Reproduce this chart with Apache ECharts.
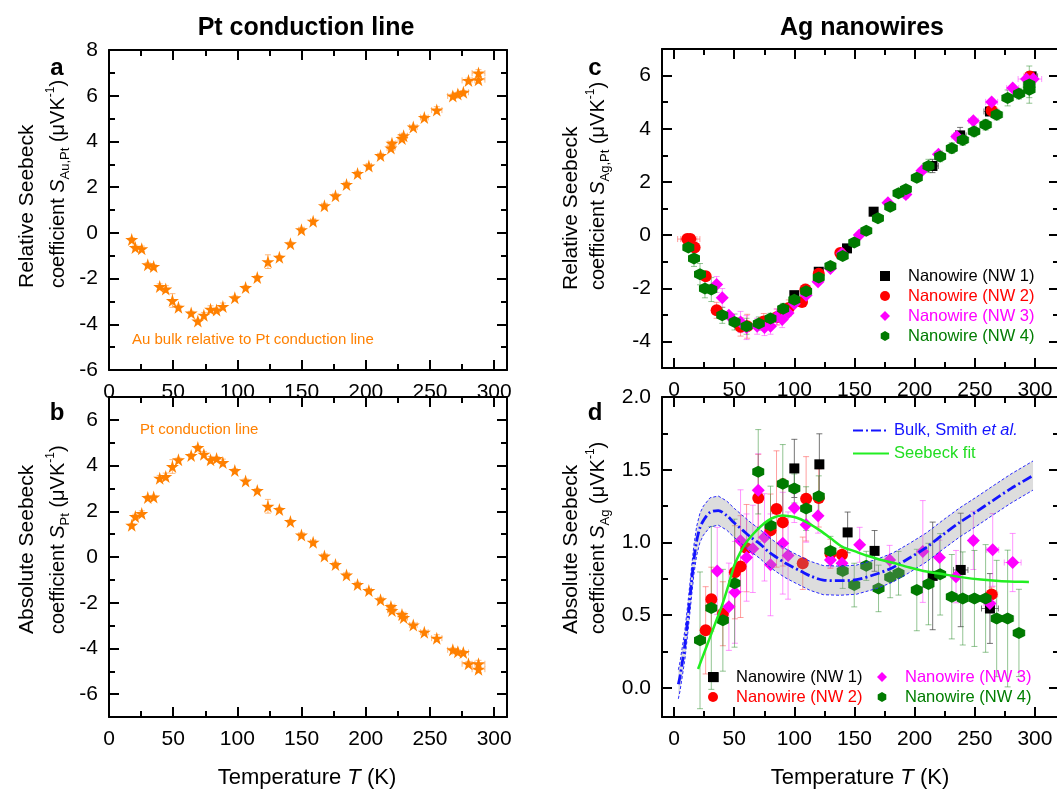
<!DOCTYPE html>
<html><head><meta charset="utf-8">
<script src="https://cdn.jsdelivr.net/npm/echarts@6/dist/echarts.min.js"></script>
<style>html,body{margin:0;padding:0;background:#fff}#c{width:1057px;height:790px}</style>
</head><body><div id="c"></div>
<script>
// ---------- Pt conduction line (panels a, b) ----------
const ptT = [17.7,20.5,25.5,30.2,34.8,39.5,44.2,49.4,54.1,64,69.2,73.9,79.1,83.8,88.7,98,106.4,115.5,123.8,132.7,141.3,149.9,159,167.8,176.4,185,193.6,202.4,211.5,219.6,220.4,228.2,229.5,237,245.6,255.3,267.8,271.7,276,280,287.8,287.8];
const auRelPt = [-0.29,-0.64,-0.70,-1.39,-1.47,-2.35,-2.46,-2.96,-3.25,-3.51,-3.86,-3.60,-3.34,-3.37,-3.22,-2.84,-2.39,-1.95,-1.26,-1.07,-0.48,0.14,0.51,1.19,1.62,2.12,2.60,2.93,3.38,3.71,3.92,4.13,4.25,4.63,5.05,5.37,5.99,6.07,6.15,6.67,6.70,6.99];
const ptAbs = [1.39,1.77,1.90,2.60,2.62,3.45,3.52,3.96,4.25,4.44,4.79,4.50,4.25,4.31,4.13,3.78,3.33,2.91,2.22,2.08,1.55,0.96,0.65,0.04,-0.33,-0.79,-1.20,-1.47,-1.87,-2.17,-2.34,-2.52,-2.65,-2.97,-3.29,-3.55,-4.06,-4.14,-4.18,-4.67,-4.67,-4.91];
const ptYErr = [0.08,0.1,0.12,0.08,0.08,0.12,0.15,0.3,0.08,0.08,0.08,0.12,0.15,0.08,0.15,0.08,0.08,0.08,0.3,0.08,0.08,0.08,0.08,0.08,0.08,0.08,0.08,0.08,0.08,0.08,0.08,0.1,0.08,0.08,0.08,0.15,0.08,0.08,0.08,0.1,0.15,0.15];
const ptXErr = [0,0,0,0,0,0,0,0,0,0,0,0,0,0,0,0,0,0,0,0,0,2,2,2,2,2,2,2,2,3,3,3,3,3,3,4,4,4,4,5,5,5];

// ---------- Ag nanowires, relative (panel c) ----------
const c1T = [100,120.3,143.8,165.9,214.8,237.8,262.6,297.2];
const c1S = [-2.26,-1.38,-0.50,0.88,2.60,3.75,4.65,5.97];
const c1E = [0.08,0.12,0.05,0.05,0.25,0.3,0.15,0.1];
const c1X = [0,0,0,0,5,5,5,5];
const c2T = [11,13.5,17.1,26.3,35.4,55.3,60.8,74.6,85.7,95.4,106.4,109.2,120.3,138.2,264,295.8];
const c2S = [-0.15,-0.15,-0.47,-1.55,-2.83,-3.45,-3.43,-3.25,-3.08,-2.74,-2.52,-2.05,-1.45,-0.67,4.69,5.97];
const c2E = [0.05,0.05,0.08,0.15,0.3,0.35,0.45,0.3,0.3,0.3,0.05,0.2,0.1,0.05,0.1,0.1];
const c2X = [8,8,0,0,0,0,0,0,0,0,0,0,0,0,5,5];
const c3T = [35.4,40.1,45.6,55.3,60.3,69.1,75.2,80.2,85.2,89.9,94.8,100,109.8,119.7,130,139.6,154,177.8,192.7,206,219.8,235,248.8,264,281.5,293,298.6];
const c3S = [-1.86,-2.36,-3.02,-3.27,-3.48,-3.43,-3.48,-3.43,-3.08,-3.18,-2.93,-2.58,-2.26,-1.76,-1.26,-0.69,0,1.22,1.53,2.42,3.04,3.71,4.30,5.01,5.53,5.87,5.87];
const c3E = [0.3,0.35,0.1,0.4,0.45,0.3,0.3,0.3,0.3,0.3,0.1,0.1,0.1,0.1,0.1,0.05,0.05,0.08,0.15,0.1,0.1,0.1,0.1,0.1,0.1,0.1,0.1];
const c3X = [0,0,0,0,0,0,0,0,0,0,0,0,0,0,0,0,0,3,3,3,3,4,4,5,5,7,7];
const c4T = [11.9,16.6,21.6,25.7,31,40.1,50.3,60.3,70.5,80.2,90.7,100,109.8,120.3,130,140.2,149.8,159.8,169.5,179.7,186.6,192.7,201.8,211.5,221.2,230.9,240,249.4,259,268.2,277.3,286.7,295.3,295.3];
const c4S = [-0.47,-0.88,-1.47,-2.01,-2.05,-3.02,-3.27,-3.43,-3.33,-3.14,-2.77,-2.43,-2.11,-1.60,-1.16,-0.79,-0.28,0.16,0.63,1.07,1.57,1.72,2.16,2.60,2.96,3.27,3.58,3.90,4.15,4.53,5.16,5.32,5.47,5.66];
const c4E = [0.05,0.3,0.4,0.35,0.45,0.3,0.3,0.3,0.25,0.2,0.2,0.15,0.12,0.1,0.08,0.08,0.06,0.06,0.06,0.08,0.1,0.1,0.15,0.25,0.2,0.2,0.2,0.2,0.2,0.2,0.3,0.2,0.3,0.7];
const c4X = [0,0,0,0,0,0,0,0,0,0,0,0,0,0,0,0,0,0,0,0,0,0,3,3,3,3,5,5,5,5,5,5,5,5];

// ---------- Ag nanowires, absolute (panel d) ----------
const d1T = [33,100,120.8,144.3,166.7,215,238.3,262.6];
const d1S = [0.074,1.509,1.537,1.069,0.942,0.770,0.811,0.546];
const d1E = [0.02,0.2,0.21,0.14,0.14,0.37,0.39,0.24];
const d1X = [0,0,0,0,0,3,6,7];
const d2T = [26.3,31,40.6,50.6,55.3,60.3,70,80.2,85.2,90.4,107,109.8,120.3,130,139.6,264];
const d2S = [0.396,0.61,0.51,0.795,0.834,0.961,1.306,1.083,1.23,1.138,0.857,1.30,1.306,0.922,0.915,0.643];
const d2E = [0.3,0.22,0.22,0.32,0.35,0.3,0.3,0.25,0.4,0.3,0.18,0.29,0.2,0.1,0.05,0.05];
const d2X = [0,0,0,0,0,0,0,0,0,0,0,0,0,0,0,5];
const d3T = [35.9,45.6,50.6,55.3,60.3,65.5,70,75.2,80.2,90.4,94.8,100,109.8,119.7,130,139.6,154.3,179.2,206.8,220.6,234.4,248.8,264.9,262.6,281.5];
const d3S = [0.804,0.558,0.657,1.012,0.896,0.956,1.359,1.035,0.846,0.995,0.910,1.237,1.122,1.184,0.880,0.857,0.984,0.880,0.938,0.896,0.765,1.014,0.949,0.581,0.862];
const d3E = [0.3,0.3,0.35,0.35,0.3,0.3,0.25,0.3,0.35,0.35,0.3,0.1,0.12,0.12,0.05,0.05,0.12,0.1,0.35,0.12,0.18,0.2,0.25,0.05,0.2];
const d3X = [0,0,0,0,0,0,0,0,0,0,0,0,0,0,0,0,0,0,0,0,0,3,5,5,7];
const d4T = [21.6,31,40.6,50.3,70,80.2,90.4,100,109.8,120.3,130,140.2,149.8,159.8,170,179.7,186.6,201.8,211.5,221.2,230.9,240,249.7,259,268.2,277.3,286.7];
const d4S = [0.327,0.55,0.465,0.72,1.486,1.117,1.403,1.371,1.233,1.318,0.942,0.804,0.707,0.839,0.684,0.760,0.788,0.673,0.714,0.781,0.627,0.615,0.615,0.615,0.477,0.477,0.378];
const d4E = [0.47,0.56,0.35,0.44,0.29,0.27,0.27,0.1,0.15,0.14,0.1,0.12,0.15,0.1,0.16,0.14,0.15,0.28,0.28,0.28,0.29,0.32,0.33,0.37,0.4,0.47,0.3];
const d4X = [0,0,0,0,0,0,0,0,0,0,0,0,0,0,0,0,0,0,0,0,0,0,0,0,4,5,5];

// Bulk (Smith et al.) curve and its uncertainty band half-width
const smithT = [3.6,5,9.1,12,14.7,16.5,18.8,21.5,24.4,29.9,36.8,43.8,50,57.5,64,71.4,78,85.3,92,99,106,113,124,137.8,151.6,168.3,182,195,209.8,223,237.5,251,265,280,298.4];
const smithS = [0.025,0.08,0.30,0.52,0.74,0.88,1.01,1.10,1.15,1.207,1.219,1.185,1.135,1.081,1.035,0.99,0.94,0.897,0.86,0.829,0.80,0.771,0.741,0.737,0.744,0.783,0.828,0.89,0.966,1.05,1.138,1.21,1.288,1.37,1.46];
const smithHalf = 0.1;
// Seebeck fit curve
const fitT = [20,25,30,35,40,45,50,55,60,66,72,78,84,90,96,102,110,120,130,140,150,160,170,182,195,210,225,240,255,270,285,295];
const fitS = [0.13,0.24,0.35,0.46,0.57,0.70,0.84,0.93,1.00,1.06,1.11,1.15,1.175,1.185,1.18,1.17,1.14,1.09,1.03,0.97,0.94,0.91,0.885,0.86,0.83,0.80,0.78,0.76,0.745,0.735,0.73,0.728];

// ---------- ticks ----------
const xMajPt = [0,50,100,150,200,250,300], xMinPt = [25,75,125,175,225,275];
const xMajAg = [0,50,100,150,200,250,300], xMinAg = [25,75,125,175,225,275];
const yMajA = [-6,-4,-2,0,2,4,6,8], yMinA = [-5,-3,-1,1,3,5,7];
const yMajB = [-6,-4,-2,0,2,4,6], yMinB = [-5,-3,-1,1,3,5];
const yMajC = [-4,-2,0,2,4,6], yMinC = [-3,-1,1,3,5];
const yMajD = [0,0.5,1,1.5,2], yMinD = [0.25,0.75,1.25,1.75];

const FONT = "'Liberation Sans', Arial, Helvetica, sans-serif";
const grids = [
  {left:109, top:50, width:398, height:320},
  {left:109, top:397, width:398, height:320},
  {left:662, top:49, width:397, height:319},
  {left:662, top:397, width:397, height:320}
].map(g => Object.assign({outerBoundsMode:'none', containLabel:false}, g));

const xAxes = [], yAxes = [];
function addAxes(g, xr, xMaj, xMin, yr, yMaj, yMin, yFmt) {
  const line = {onZero:false, lineStyle:{color:'#000', width:2}};
  const tick = (vals, len) => ({inside:true, length:len, customValues:vals, lineStyle:{color:'#000', width:2}});
  const lab = {fontSize:21, color:'#000', fontFamily:FONT};
  const bx = {gridIndex:g, type:'value', min:xr[0], max:xr[1], splitLine:{show:false}};
  xAxes.push(Object.assign({}, bx, {position:'bottom', axisLine:line, axisTick:tick(xMaj,10),
    axisLabel:Object.assign({customValues:xMaj, margin:12}, lab)}));
  xAxes.push(Object.assign({}, bx, {position:'top', axisLine:line, axisTick:tick(xMaj,10), axisLabel:{show:false}}));
  xAxes.push(Object.assign({}, bx, {position:'bottom', axisLine:{show:false,onZero:false}, axisTick:tick(xMin,6), axisLabel:{show:false}}));
  xAxes.push(Object.assign({}, bx, {position:'top', axisLine:{show:false,onZero:false}, axisTick:tick(xMin,6), axisLabel:{show:false}}));
  const by = {gridIndex:g, type:'value', min:yr[0], max:yr[1], splitLine:{show:false}};
  yAxes.push(Object.assign({}, by, {position:'left', axisLine:line, axisTick:tick(yMaj,10),
    axisLabel:Object.assign({customValues:yMaj, margin:11, formatter:yFmt}, lab)}));
  yAxes.push(Object.assign({}, by, {position:'right', axisLine:line, axisTick:tick(yMaj,10), axisLabel:{show:false}}));
  yAxes.push(Object.assign({}, by, {position:'left', axisLine:{show:false,onZero:false}, axisTick:tick(yMin,6), axisLabel:{show:false}}));
  yAxes.push(Object.assign({}, by, {position:'right', axisLine:{show:false,onZero:false}, axisTick:tick(yMin,6), axisLabel:{show:false}}));
}
const intFmt = v => String(v);
addAxes(0, [0,310], xMajPt, xMinPt, [-6,8], yMajA, yMinA, intFmt);
addAxes(1, [0,310], xMajPt, xMinPt, [-7,7], yMajB, yMinB, intFmt);
addAxes(2, [-10,320], xMajAg, xMinAg, [-5,7], yMajC, yMinC, intFmt);
addAxes(3, [-10,320], xMajAg, xMinAg, [-0.2,2.0], yMajD, yMinD, v => Number(v).toFixed(1));

function errSeries(g, T, S, E, X, color) {
  return {
    type:'custom', xAxisIndex:4*g, yAxisIndex:4*g, silent:true, clip:true, z:2,
    data: T.map((t,i) => [t, S[i], E[i], X[i]]),
    encode:{x:0, y:1},
    renderItem: (params, api) => {
      const x = api.value(0), y = api.value(1), ey = api.value(2), ex = api.value(3);
      const ch = [], st = {stroke:color, lineWidth:1};
      const cap = 3;
      if (ey > 0) {
        const a = api.coord([x, y - ey]), b = api.coord([x, y + ey]);
        ch.push({type:'line', shape:{x1:a[0],y1:a[1],x2:b[0],y2:b[1]}, style:st});
        ch.push({type:'line', shape:{x1:a[0]-cap,y1:a[1],x2:a[0]+cap,y2:a[1]}, style:st});
        ch.push({type:'line', shape:{x1:b[0]-cap,y1:b[1],x2:b[0]+cap,y2:b[1]}, style:st});
      }
      if (ex > 0) {
        const a = api.coord([x - ex, y]), b = api.coord([x + ex, y]);
        ch.push({type:'line', shape:{x1:a[0],y1:a[1],x2:b[0],y2:b[1]}, style:st});
        ch.push({type:'line', shape:{x1:a[0],y1:a[1]-cap,x2:a[0],y2:a[1]+cap}, style:st});
        ch.push({type:'line', shape:{x1:b[0],y1:b[1]-cap,x2:b[0],y2:b[1]+cap}, style:st});
      }
      return {type:'group', children:ch};
    }
  };
}
function scat(g, name, T, S, symbol, size, color) {
  return {type:'scatter', name, xAxisIndex:4*g, yAxisIndex:4*g, z:3, silent:true,
    data: T.map((t,i) => [t, S[i]]), symbol, symbolSize:size, itemStyle:{color, opacity:1}};
}
const STAR = 'path://M50,0 L61,35 L98,35 L68,57 L79,91 L50,70 L21,91 L32,57 L2,35 L39,35 Z';
const HEX = 'path://M50,0 L93,25 L93,75 L50,100 L7,75 L7,25 Z';
const ORANGE = '#ff8000';
const COLS = {n1:'#000000', n2:'#ff0000', n3:'#ff00ff', n4:'#007a00'};
const ECOLS = {n1:'rgba(60,60,60,0.7)', n2:'rgba(255,80,80,0.55)', n3:'rgba(255,60,255,0.55)', n4:'rgba(40,140,40,0.5)'};
const N = ['Nanowire (NW 1)','Nanowire (NW 2)','Nanowire (NW 3)','Nanowire (NW 4)'];
const BLUE = '#1414ff', LIME = '#22ee22';

const series = [
  errSeries(0, ptT, auRelPt, ptYErr, ptXErr, 'rgba(255,140,40,0.6)'),
  scat(0, 'Au', ptT, auRelPt, STAR, 13, ORANGE),
  errSeries(1, ptT, ptAbs, ptYErr, ptXErr, 'rgba(255,140,40,0.6)'),
  scat(1, 'Pt', ptT, ptAbs, STAR, 13, ORANGE),

  errSeries(2, c1T, c1S, c1E, c1X, ECOLS.n1), scat(2, N[0], c1T, c1S, 'rect', 10, COLS.n1),
  errSeries(2, c2T, c2S, c2E, c2X, ECOLS.n2), scat(2, N[1], c2T, c2S, 'circle', 12, COLS.n2),
  errSeries(2, c3T, c3S, c3E, c3X, ECOLS.n3), scat(2, N[2], c3T, c3S, 'diamond', 13, COLS.n3),
  errSeries(2, c4T, c4S, c4E, c4X, ECOLS.n4), scat(2, N[3], c4T, c4S, HEX, 12, COLS.n4),

  errSeries(3, d1T, d1S, d1E, d1X, ECOLS.n1), scat(3, N[0], d1T, d1S, 'rect', 10, COLS.n1),
  errSeries(3, d2T, d2S, d2E, d2X, ECOLS.n2), scat(3, N[1], d2T, d2S, 'circle', 12, COLS.n2),
  errSeries(3, d3T, d3S, d3E, d3X, ECOLS.n3), scat(3, N[2], d3T, d3S, 'diamond', 13, COLS.n3),
  errSeries(3, d4T, d4S, d4E, d4X, ECOLS.n4), scat(3, N[3], d4T, d4S, HEX, 12, COLS.n4),

  { type:'custom', xAxisIndex:12, yAxisIndex:12, silent:true, clip:true, z:4,
    data:[[smithT[0], smithS[0]]], encode:{x:0,y:1},
    renderItem: (params, api) => {
      const up = smithT.map((t,i) => api.coord([t, smithS[i] + smithHalf]));
      const lo = smithT.map((t,i) => api.coord([t, smithS[i] - smithHalf]));
      return {type:'group', children:[
        {type:'polygon', shape:{points: up.concat(lo.slice().reverse())}, style:{fill:'rgba(150,150,150,0.32)'}},
        {type:'polyline', shape:{points: up}, style:{stroke:'#2a2aff', lineWidth:1, lineDash:[3,2], fill:null}},
        {type:'polyline', shape:{points: lo}, style:{stroke:'#2a2aff', lineWidth:1, lineDash:[3,2], fill:null}}
      ]};
    }
  },
  { type:'line', name:'Bulk, Smith et al.', xAxisIndex:12, yAxisIndex:12, z:5, silent:true,
    data: smithT.map((t,i) => [t, smithS[i]]), showSymbol:false, symbol:'none', smooth:0.3,
    itemStyle:{color:'rgba(0,0,0,0)', borderWidth:0},
    lineStyle:{color:BLUE, width:2.8, type:[10,3,2,3]} },
  { type:'line', name:'Seebeck fit', xAxisIndex:12, yAxisIndex:12, z:5, silent:true,
    data: fitT.map((t,i) => [t, fitS[i]]), showSymbol:false, symbol:'none', smooth:0.3,
    itemStyle:{color:'rgba(0,0,0,0)', borderWidth:0},
    lineStyle:{color:LIME, width:2.5} }
];

const legTxt = {fontSize:16.5, fontFamily:FONT, lineHeight:20, padding:[0,0,0,13]};
const nwLegendItem = (i, col) => ({name:N[i], textStyle:{color:col}});
const nwLegend = (left, top, items) => ({left, top, orient:'vertical', itemWidth:10, itemHeight:10,
  itemGap:0, padding:0, selectedMode:false, textStyle:legTxt, data:items});
const legends = [
  nwLegend(880, 266, [nwLegendItem(0,COLS.n1), nwLegendItem(1,COLS.n2), nwLegendItem(2,COLS.n3), nwLegendItem(3,'#008000')]),
  nwLegend(708, 667, [nwLegendItem(0,COLS.n1), nwLegendItem(1,COLS.n2)]),
  nwLegend(877, 667, [nwLegendItem(2,COLS.n3), nwLegendItem(3,'#008000')]),
  {left:852, top:422, orient:'vertical', itemWidth:36, itemHeight:14, itemGap:6, padding:0, selectedMode:false,
   textStyle:{fontSize:16.5, fontFamily:FONT, rich:{
     b:{color:BLUE, fontSize:16.5, fontFamily:FONT},
     i:{color:BLUE, fontSize:16.5, fontFamily:FONT, fontStyle:'italic'},
     g:{color:'#22dd22', fontSize:16.5, fontFamily:FONT}}},
   formatter: n => n === 'Bulk, Smith et al.' ? '{b|Bulk, Smith }{i|et al.}' : '{g|Seebeck fit}',
   data:['Bulk, Smith et al.', 'Seebeck fit']}
];

function txt(x, y, text, opts) {
  return {type:'text', x, y, silent:true, style:Object.assign({text, fontFamily:FONT, fill:'#000',
    align:'center', verticalAlign:'middle'}, opts || {})};
}
const richY = {
  n:{fontSize:20, fontFamily:FONT, lineHeight:30, verticalAlign:'middle'},
  i:{fontSize:20, fontFamily:FONT, fontStyle:'italic', lineHeight:30},
  s:{fontSize:13, fontFamily:FONT, verticalAlign:'bottom', lineHeight:30, padding:[0,0,1,0]},
  p:{fontSize:12, fontFamily:FONT, verticalAlign:'top', lineHeight:30, padding:[2,0,0,0]}
};
function yTitle(x1, x2, yStart, l1, sub) {
  return [
    {type:'text', x:x1, y:yStart, rotation:Math.PI/2, silent:true,
     style:{text:l1, fontSize:21, fontFamily:FONT, fill:'#000', align:'left', verticalAlign:'middle'}},
    {type:'text', x:x2, y:yStart, rotation:Math.PI/2, silent:true,
     style:{text:'{n|coefficient }{i|S}{s|' + sub + '}{n| (\u03bcVK}{p|-1}{n|)}', rich:richY, fill:'#000',
       align:'left', verticalAlign:'middle'}}
  ];
}
const richX = {n:{fontSize:22, fontFamily:FONT}, i:{fontSize:22, fontFamily:FONT, fontStyle:'italic'}};
const graphics = [
  txt(306, 28, 'Pt conduction line', {fontSize:25, fontWeight:'bold'}),
  txt(862, 28, 'Ag nanowires', {fontSize:25, fontWeight:'bold'}),
  txt(57, 68, 'a', {fontSize:24, fontWeight:'bold'}),
  txt(57, 413, 'b', {fontSize:24, fontWeight:'bold'}),
  txt(595, 68, 'c', {fontSize:24, fontWeight:'bold'}),
  txt(595, 413, 'd', {fontSize:24, fontWeight:'bold'}),
  txt(132, 340, 'Au bulk relative to Pt conduction line', {fontSize:15, fill:ORANGE, align:'left'}),
  txt(140, 430, 'Pt conduction line', {fontSize:15, fill:ORANGE, align:'left'}),
  txt(307, 778, '{n|Temperature }{i|T}{n| (K)}', {rich:richX}),
  txt(860, 778, '{n|Temperature }{i|T}{n| (K)}', {rich:richX})
].concat(yTitle(27, 58, 288, 'Relative Seebeck', 'Au,Pt'))
 .concat(yTitle(27, 58, 634, 'Absolute Seebeck', 'Pt'))
 .concat(yTitle(571, 598, 290, 'Relative Seebeck', 'Ag,Pt'))
 .concat(yTitle(571, 598, 634, 'Absolute Seebeck', 'Ag'));

const chart = echarts.init(document.getElementById('c'), null, {renderer:'canvas'});
chart.setOption({
  animation:false,
  backgroundColor:'#fff',
  textStyle:{fontFamily:FONT},
  grid:grids, xAxis:xAxes, yAxis:yAxes,
  legend:legends,
  series, graphic:graphics
});
</script></body></html>
